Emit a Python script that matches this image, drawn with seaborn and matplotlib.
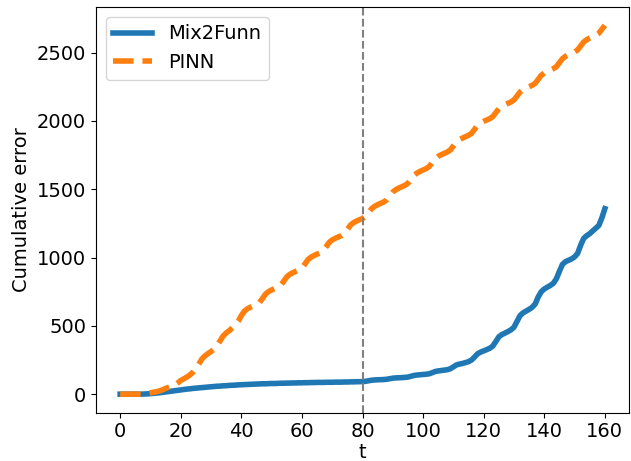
import matplotlib
matplotlib.use("Agg")
import matplotlib.pyplot as plt
import seaborn as sns
import numpy as np
import pandas as pd

t = list(range(0, 161))

mix2funn = [
    0, 0, 0, 0, 0, 0, 0, 0,
    1, 2, 4, 6, 8, 10, 13, 16, 19, 22, 25, 28, 31, 34, 37, 39, 42, 44, 46, 48,
    50, 52, 54, 56, 58, 59, 61, 62, 64, 65, 66, 68, 69,
    70, 71, 72, 73, 74, 75, 76, 76, 77, 78, 78, 79, 80, 80, 81, 81, 82, 82, 83, 83,
    84, 84, 85, 85, 86, 86, 86, 87, 87, 87, 88, 88, 88, 89, 89, 90, 90, 91, 91, 92,
    94, 98, 102, 104, 105, 106, 107,
    109, 113, 117, 119, 120, 121, 123,
    125, 131, 137, 140, 142, 144, 146,
    149, 157, 166, 170, 173, 176, 179,
    186, 200, 214, 220, 225, 231, 238,
    250, 272, 296, 308, 317, 326, 336,
    352, 385, 420, 436, 447, 458, 471,
    490, 532, 575, 595, 608, 621, 636,
    660, 712, 750, 770, 783, 796, 812,
    845, 900, 950, 970, 980, 990, 1005,
    1030, 1090, 1140, 1160, 1175, 1195, 1215,
    1235, 1290, 1358,
]

pinn = [
    0, 0, 0, 0, 0, 0, 0, 0,
    2, 5, 10, 14, 18, 24, 32, 42, 50, 57, 66, 82, 100,
    112, 125, 140, 160, 188, 222, 258, 280, 297, 312, 330, 355, 390, 426, 448,
    465, 485, 505, 535, 575,
    607, 625, 637, 647, 656, 671, 701, 733, 751, 763, 773, 782, 797, 827, 859,
    877, 889, 899, 908, 923, 953, 985, 1003, 1015, 1025, 1034, 1049, 1079, 1111,
    1129, 1141, 1151, 1160, 1175, 1205, 1237, 1255, 1267, 1277, 1286,
    1300, 1329, 1358, 1375, 1387, 1397, 1407,
    1422, 1451, 1480, 1497, 1509, 1519, 1529,
    1544, 1573, 1602, 1619, 1631, 1641, 1651,
    1666, 1695, 1724, 1741, 1753, 1763, 1773,
    1788, 1817, 1846, 1863, 1875, 1885, 1895,
    1910, 1939, 1968, 1985, 1997, 2007, 2017,
    2032, 2061, 2090, 2107, 2119, 2129, 2139,
    2154, 2183, 2212, 2229, 2241, 2251, 2261,
    2276, 2305, 2334, 2351, 2363, 2373, 2383,
    2398, 2427, 2456, 2473, 2485, 2495, 2505,
    2520, 2549, 2578, 2595, 2607, 2617, 2627,
    2642, 2671, 2700,
]

split_t = 80
series_names = ["Mix2Funn", "PINN"]

fig = plt.figure(figsize=(6.31, 4.61), dpi=100)
ax = fig.add_axes([0.152, 0.105, 0.845, 0.88])

sns.lineplot(x=t, y=mix2funn, ax=ax, color="#1f77b4", linewidth=4,
             label=series_names[0])
sns.lineplot(x=t, y=pinn, ax=ax, color="#ff7f0e", linewidth=4,
             linestyle="--", label=series_names[1])
ax.axvline(split_t, color="gray", linestyle="--", linewidth=1.5)

ax.set_xlabel("t", fontsize=14, labelpad=1)
ax.set_ylabel("Cumulative error", fontsize=14)
ax.tick_params(labelsize=14)
ax.set_xticks([0, 20, 40, 60, 80, 100, 120, 140, 160])
ax.set_yticks([0, 500, 1000, 1500, 2000, 2500])
ax.legend(loc="upper left", fontsize=14)

fig.savefig("out.png", dpi=100)
